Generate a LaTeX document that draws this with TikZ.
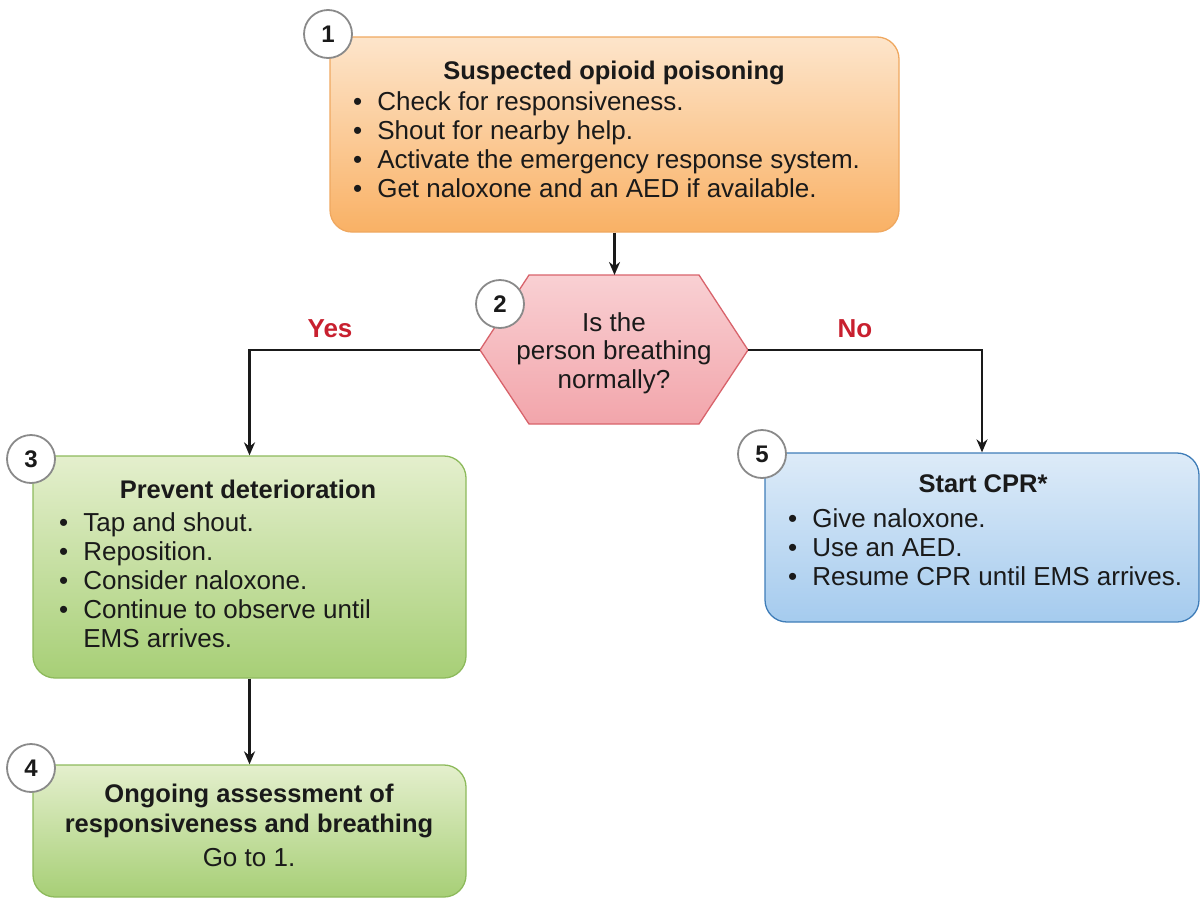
\documentclass[tikz,border=0pt]{standalone}
\usepackage{fontspec}
\setmainfont{Liberation Sans}
\usetikzlibrary{arrows.meta}
\definecolor{orTop}{HTML}{FDE5CB}
\definecolor{orBot}{HTML}{F9B165}
\definecolor{orLine}{HTML}{EFA860}
\definecolor{pkTop}{HTML}{F9D0D3}
\definecolor{pkBot}{HTML}{F2A5AB}
\definecolor{pkLine}{HTML}{D8636B}
\definecolor{gnTop}{HTML}{E4EFCD}
\definecolor{gnBot}{HTML}{A7CF76}
\definecolor{gnLine}{HTML}{8DBA5C}
\definecolor{blTop}{HTML}{DDEBF8}
\definecolor{blBot}{HTML}{A5CBEE}
\definecolor{blLine}{HTML}{3F7DB8}
\definecolor{ansRed}{HTML}{C8202F}
\definecolor{numLine}{HTML}{8A8A8A}
\definecolor{ink}{HTML}{1A1A1A}
\tikzset{
  boxbase/.style={rectangle, rounded corners=22pt, line width=1.3pt, inner sep=0pt},
  orbox/.style={boxbase, draw=orLine, top color=orTop, bottom color=orBot},
  gnbox/.style={boxbase, draw=gnLine, top color=gnTop, bottom color=gnBot},
  blbox/.style={boxbase, draw=blLine, top color=blTop, bottom color=blBot},
  numc/.style={circle, draw=numLine, line width=1.8pt, fill=white, minimum size=48pt, inner sep=0pt, text=ink, font=\fontsize{24}{24}\selectfont\bfseries},
  ttl/.style={anchor=base, inner sep=0pt, text=ink, font=\fontsize{25.5}{29.5}\selectfont\bfseries},
  ctitle/.style={anchor=center, inner sep=0pt, align=center, text=ink, font=\fontsize{25.5}{30}\selectfont\bfseries},
  txt/.style={anchor=base west, inner sep=0pt, text=ink, font=\fontsize{26}{29}\selectfont},
  ctxt/.style={anchor=base, inner sep=0pt, text=ink, font=\fontsize{26}{29}\selectfont},
  mtxt/.style={anchor=center, inner sep=0pt, align=center, text=ink, font=\fontsize{26}{28.5}\selectfont},
  ans/.style={anchor=base, inner sep=0pt, text=ansRed, font=\fontsize{26}{26}\selectfont\bfseries},
  arr/.style={line width=2.2pt, draw=ink, -{Stealth[length=13pt,width=11pt]}},
}
\newcommand{\bl}{\textbullet}
\begin{document}
\begin{tikzpicture}[x=1pt,y=-1pt]
\useasboundingbox (0,0) rectangle (1201,900);
% boxes
\node[orbox, minimum width=569pt, minimum height=195pt] (b1) at (614.5,134.5) {};
\node[gnbox, minimum width=433pt, minimum height=222pt] (b3) at (249.5,567) {};
\node[gnbox, minimum width=433pt, minimum height=132pt] (b4) at (249.5,831) {};
\node[blbox, minimum width=434pt, minimum height=169pt] (b5) at (982,537.5) {};
% hexagon
\coordinate (d2w) at (480,350);
\coordinate (d2e) at (748,350);
\coordinate (d2n) at (614.5,275);
\shade[draw=pkLine, line width=1.3pt, top color=pkTop, bottom color=pkBot]
  (d2w) -- (529,275) -- (699,275) -- (d2e) -- (699,424) -- (529,424) -- cycle;
% texts box 1
\node[ttl] (t1) at (614,79) {Suspected opioid poisoning};
\node[txt] (l1) at (353,110) {\begin{tabular}[t]{@{}l@{\hspace{15pt}}l@{}}
\bl & Check for responsiveness.\\
\bl & Shout for nearby help.\\
\bl & Activate the emergency response system.\\
\bl & Get naloxone and an AED if available.
\end{tabular}};
% hex text
\node[mtxt] (d2) at (614,353) {Is the\\person breathing\\normally?};
% box 3
\node[ttl] (t3) at (248,498) {Prevent deterioration};
\node[txt] (l3) at (59,531) {\begin{tabular}[t]{@{}l@{\hspace{15pt}}l@{}}
\bl & Tap and shout.\\
\bl & Reposition.\\
\bl & Consider naloxone.\\
\bl & Continue to observe until\\
    & EMS arrives.
\end{tabular}};
% box 4
\node[ctitle] (t4) at (249,811) {Ongoing assessment of\\responsiveness and breathing};
\node[ctxt] (g4) at (249,866) {Go to 1.};
% box 5
\node[ttl] (t5) at (983,492) {Start CPR*};
\node[txt] (l5) at (788,527) {\begin{tabular}[t]{@{}l@{\hspace{15pt}}l@{}}
\bl & Give naloxone.\\
\bl & Use an AED.\\
\bl & Resume CPR until EMS arrives.
\end{tabular}};
% answers
\node[ans] (yes) at (330,337) {Yes};
\node[ans] (no) at (855,337) {No};
% connectors
\draw[arr] (b1.south) -- (d2n);
\draw[arr] (d2w) -| (b3.north);
\draw[arr] (d2e) -| (b5.north);
\draw[arr] (b3.south) -- (b4.north);
% number circles
\node[numc] (c1) at (328,34) {1};
\node[numc] (c2) at (500,304) {2};
\node[numc] (c3) at (31,459) {3};
\node[numc] (c4) at (31,768) {4};
\node[numc] (c5) at (762,454) {5};
\end{tikzpicture}
\end{document}
